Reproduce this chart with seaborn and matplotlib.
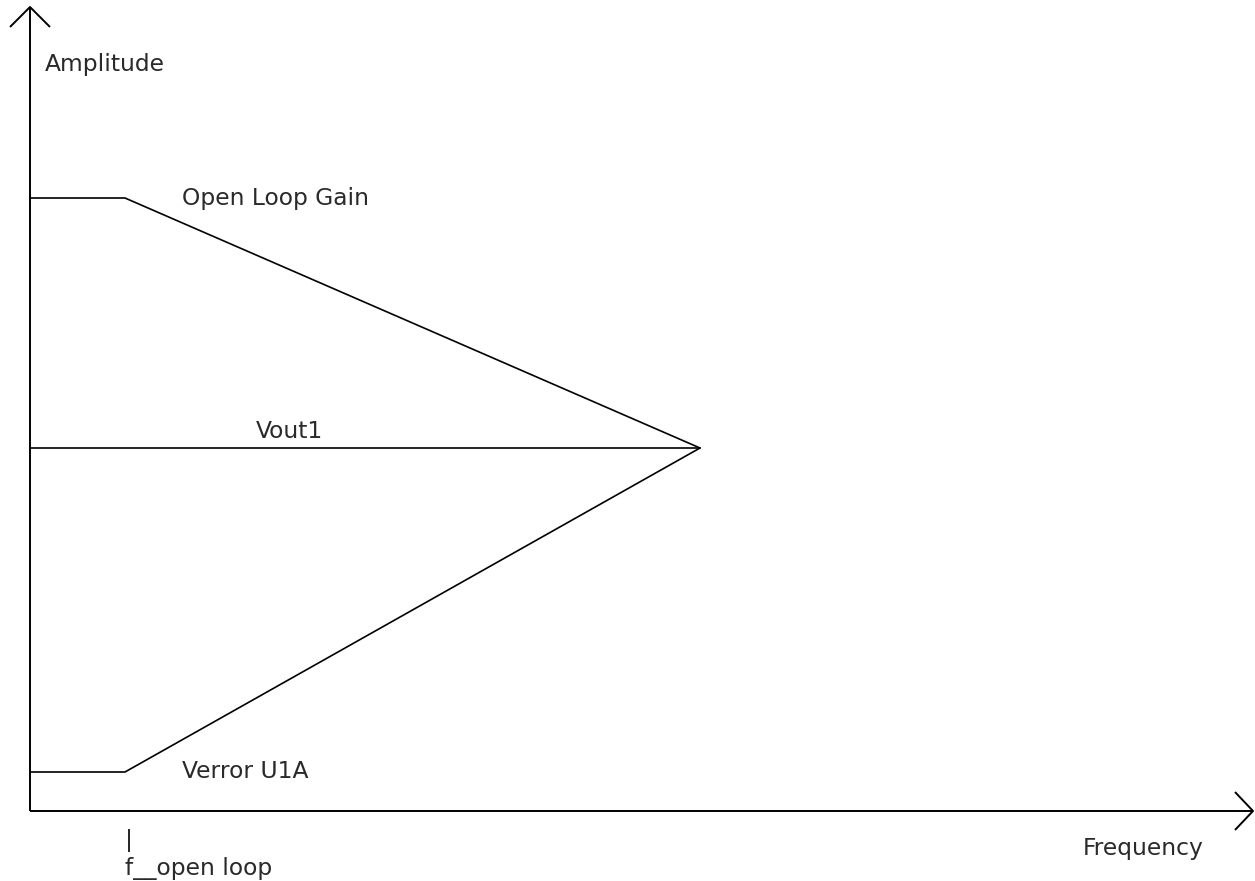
"""Open loop gain / error voltage sketch (Bode-style asymptotes)."""

import numpy as np
import pandas as pd
import matplotlib
matplotlib.use("Agg")
import matplotlib.pyplot as plt
import seaborn as sns

# Corner points of each asymptote (frequency, amplitude) in arbitrary units
open_loop_freq = [0, 95, 670]
open_loop_amp = [613, 613, 363]
vout_freq = [0, 670]
vout_amp = [363, 363]
verror_freq = [0, 95, 670]
verror_amp = [39, 39, 363]

series_names = ["Open Loop Gain", "Vout1", "Verror U1A"]

# Build one long table for seaborn
df = pd.concat([
    pd.DataFrame({"freq": open_loop_freq, "amp": open_loop_amp, "series": series_names[0]}),
    pd.DataFrame({"freq": vout_freq, "amp": vout_amp, "series": series_names[1]}),
    pd.DataFrame({"freq": verror_freq, "amp": verror_amp, "series": series_names[2]}),
], ignore_index=True)

sns.set_theme(style="white")
plt.rcParams["font.family"] = ["DejaVu Sans"]

fig = plt.figure(figsize=(12.55, 8.81), dpi=100)
ax = fig.add_axes([0, 0, 1, 1])

sns.lineplot(
    data=df, x="freq", y="amp", units="series", estimator=None,
    sort=False, color="black", linewidth=1.2, ax=ax, legend=False
)

# Hand-drawn style axes with open arrowheads
ax_kw = dict(color="black", linewidth=1.4, solid_capstyle="butt")
ax.plot([0, 0], [0, 804], **ax_kw)
ax.plot([-20, 0, 20], [784, 804, 784], **ax_kw)
ax.plot([0, 1223], [0, 0], **ax_kw)
ax.plot([1205, 1223, 1205], [19, 0, -19], **ax_kw)

# Labels
txt_kw = dict(fontsize=16.8, color="#2a2a2a", va="center", ha="left")
ax.text(15, 746, "Amplitude", **txt_kw)
ax.text(152, 613, "Open Loop Gain", **txt_kw)
ax.text(226, 379, "Vout1", **txt_kw)
ax.text(152, 39, "Verror U1A", **txt_kw)
ax.text(95, -29, "|", **txt_kw)
ax.text(95, -57, "f__open loop", **txt_kw)
ax.text(1053, -37, "Frequency", **txt_kw)

ax.set_xlim(-30, 1225)
ax.set_ylim(-70, 811)
ax.set_axis_off()

fig.savefig("out.png", dpi=100, facecolor="white")
plt.close(fig)
